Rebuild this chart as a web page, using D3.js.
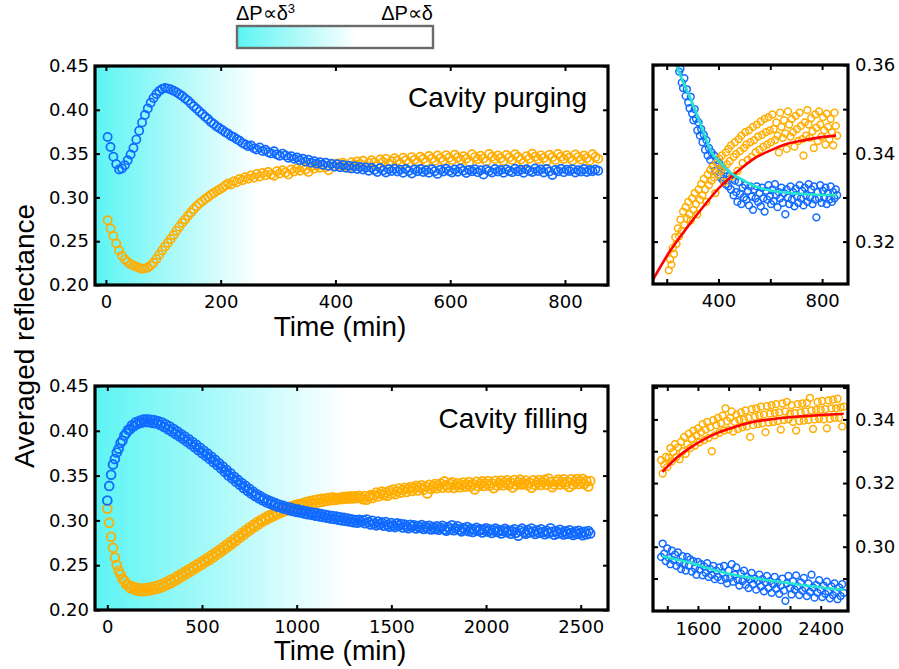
<!DOCTYPE html>
<html><head><meta charset="utf-8">
<script src="https://cdn.jsdelivr.net/npm/d3@7"></script>
<style>body{margin:0;background:#fff}svg{display:block}</style>
</head><body>
<svg id="chart" width="899" height="669"></svg>
<script>
// ---------- DATA ----------
// Cavity purging: sampled every 5 min starting at 3 min
const purgeTimeStart = 3, purgeTimeStep = 5;
const purgeBlue = [
0.3690,0.3575,0.3465,0.3380,0.3318,0.3330,0.3368,0.3425,0.3490,0.3565,
0.3660,0.3760,0.3855,0.3940,0.4015,0.4080,0.4135,0.4180,0.4215,0.4238,
0.4250,0.4242,0.4232,0.4218,0.4200,0.4178,0.4158,0.4130,0.4105,0.4072,
0.4040,0.4012,0.3980,0.3952,0.3922,0.3895,0.3862,0.3838,0.3810,0.3790,
0.3768,0.3745,0.3728,0.3702,0.3688,0.3665,0.3648,0.3620,0.3605,0.3585,
0.3592,0.3560,0.3548,0.3570,0.3530,0.3545,0.3515,0.3502,0.3528,0.3490,
0.3475,0.3500,0.3478,0.3452,0.3470,0.3440,0.3455,0.3425,0.3442,0.3408,
0.3430,0.3395,0.3412,0.3385,0.3402,0.3372,0.3395,0.3360,0.3385,0.3352,
0.3378,0.3345,0.3370,0.3338,0.3362,0.3330,0.3355,0.3325,0.3348,0.3318,
0.3342,0.3305,0.3338,0.3312,0.3290,0.3335,0.3308,0.3285,0.3322,0.3300,
0.3328,0.3295,0.3315,0.3282,0.3325,0.3302,0.3272,0.3318,0.3298,0.3325,
0.3290,0.3310,0.3280,0.3322,0.3298,0.3268,0.3315,0.3295,0.3328,0.3302,
0.3285,0.3318,0.3292,0.3330,0.3305,0.3278,0.3312,0.3298,0.3322,0.3288,
0.3310,0.3262,0.3318,0.3300,0.3285,0.3325,0.3295,0.3312,0.3280,0.3320,
0.3302,0.3288,0.3328,0.3298,0.3315,0.3282,0.3322,0.3305,0.3290,0.3330,
0.3300,0.3318,0.3285,0.3325,0.3295,0.3255,0.3312,0.3298,0.3328,0.3288,
0.3315,0.3300,0.3322,0.3285,0.3310,0.3295,0.3325,0.3290,0.3312,0.3298,
0.3318,0.3305];
const purgeOrange = [
0.2740,0.2645,0.2560,0.2475,0.2395,0.2335,0.2290,0.2262,0.2238,0.2222,
0.2210,0.2195,0.2185,0.2190,0.2200,0.2222,0.2255,0.2298,0.2345,0.2395,
0.2440,0.2482,0.2525,0.2570,0.2618,0.2665,0.2710,0.2748,0.2790,0.2828,
0.2865,0.2898,0.2930,0.2955,0.2982,0.3005,0.3030,0.3050,0.3072,0.3090,
0.3110,0.3135,0.3160,0.3148,0.3185,0.3172,0.3210,0.3195,0.3230,0.3212,
0.3250,0.3225,0.3268,0.3238,0.3278,0.3252,0.3290,0.3262,0.3248,0.3298,
0.3272,0.3310,0.3285,0.3262,0.3318,0.3295,0.3330,0.3305,0.3342,0.3318,
0.3290,0.3352,0.3328,0.3362,0.3338,0.3370,0.3345,0.3310,0.3378,0.3352,
0.3388,0.3360,0.3395,0.3368,0.3335,0.3402,0.3375,0.3410,0.3382,0.3418,
0.3348,0.3392,0.3425,0.3398,0.3360,0.3432,0.3405,0.3440,0.3378,0.3412,
0.3448,0.3420,0.3385,0.3452,0.3425,0.3392,0.3460,0.3430,0.3402,0.3465,
0.3438,0.3408,0.3472,0.3442,0.3415,0.3478,0.3448,0.3420,0.3482,0.3452,
0.3425,0.3488,0.3455,0.3430,0.3470,0.3440,0.3402,0.3492,0.3460,0.3435,
0.3475,0.3445,0.3410,0.3495,0.3465,0.3438,0.3478,0.3448,0.3415,0.3485,
0.3455,0.3428,0.3492,0.3462,0.3432,0.3395,0.3470,0.3440,0.3498,0.3465,
0.3435,0.3480,0.3450,0.3412,0.3488,0.3458,0.3428,0.3495,0.3465,0.3438,
0.3482,0.3452,0.3420,0.3490,0.3460,0.3432,0.3478,0.3448,0.3418,0.3492,
0.3462,0.3440];

// Cavity filling: sampled every 10 min starting at 0 min
const fillTimeStart = 0, fillTimeStep = 10;
const fillBlue = [
0.3222,0.3385,0.3510,0.3625,0.3685,0.3758,0.3800,0.3865,0.3892,0.3948,
0.3972,0.4012,0.4018,0.4062,0.4050,0.4095,0.4075,0.4112,0.4090,0.4125,
0.4098,0.4128,0.4095,0.4122,0.4088,0.4118,0.4082,0.4105,0.4065,0.4092,
0.4042,0.4070,0.4018,0.4048,0.3992,0.4020,0.3965,0.3992,0.3938,0.3962,
0.3910,0.3935,0.3880,0.3905,0.3850,0.3875,0.3818,0.3845,0.3785,0.3810,
0.3752,0.3778,0.3722,0.3745,0.3688,0.3710,0.3652,0.3675,0.3618,0.3638,
0.3582,0.3602,0.3542,0.3562,0.3502,0.3525,0.3468,0.3488,0.3432,0.3452,
0.3398,0.3418,0.3362,0.3385,0.3330,0.3352,0.3300,0.3320,0.3272,0.3292,
0.3248,0.3268,0.3225,0.3245,0.3202,0.3225,0.3185,0.3208,0.3168,0.3190,
0.3152,0.3175,0.3140,0.3162,0.3128,0.3150,0.3115,0.3140,0.3105,0.3128,
0.3095,0.3120,0.3088,0.3110,0.3078,0.3102,0.3070,0.3092,0.3062,0.3085,
0.3052,0.3078,0.3045,0.3070,0.3038,0.3062,0.3030,0.3055,0.3022,0.3048,
0.3015,0.3042,0.3008,0.3035,0.3000,0.3028,0.2995,0.3020,0.2988,0.3012,
0.2980,0.3005,0.2975,0.3008,0.2982,0.3002,0.2968,0.3010,0.2978,0.2955,
0.2995,0.2965,0.2945,0.2988,0.2958,0.2975,0.2940,0.2982,0.2952,0.2930,
0.2970,0.2945,0.2925,0.2968,0.2940,0.2960,0.2922,0.2955,0.2932,0.2912,
0.2952,0.2928,0.2945,0.2910,0.2938,0.2918,0.2948,0.2905,0.2930,0.2912,
0.2940,0.2898,0.2925,0.2905,0.2935,0.2895,0.2918,0.2940,0.2900,0.2885,
0.2925,0.2902,0.2945,0.2890,0.2912,0.2935,0.2895,0.2878,0.2915,0.2892,
0.2925,0.2880,0.2905,0.2870,0.2898,0.2918,0.2882,0.2900,0.2865,0.2892,
0.2912,0.2875,0.2898,0.2860,0.2888,0.2908,0.2870,0.2892,0.2855,0.2882,
0.2905,0.2868,0.2888,0.2852,0.2878,0.2900,0.2862,0.2830,0.2885,0.2908,
0.2870,0.2850,0.2892,0.2865,0.2910,0.2875,0.2848,0.2888,0.2862,0.2902,
0.2870,0.2845,0.2885,0.2858,0.2912,0.2872,0.2840,0.2880,0.2855,0.2895,
0.2865,0.2842,0.2878,0.2852,0.2890,0.2860,0.2838,0.2875,0.2848,0.2885,
0.2858,0.2835,0.2872,0.2845,0.2882,0.2855];
const fillOrange = [
0.3130,0.2975,0.2818,0.2695,0.2585,0.2502,0.2438,0.2395,0.2345,0.2330,
0.2285,0.2282,0.2245,0.2265,0.2228,0.2250,0.2215,0.2242,0.2210,0.2240,
0.2212,0.2245,0.2218,0.2252,0.2225,0.2262,0.2235,0.2275,0.2248,0.2292,
0.2265,0.2310,0.2285,0.2335,0.2305,0.2352,0.2330,0.2378,0.2355,0.2405,
0.2380,0.2428,0.2405,0.2455,0.2430,0.2478,0.2458,0.2505,0.2482,0.2530,
0.2508,0.2555,0.2535,0.2582,0.2562,0.2610,0.2590,0.2640,0.2618,0.2668,
0.2648,0.2700,0.2678,0.2730,0.2708,0.2760,0.2740,0.2792,0.2772,0.2825,
0.2805,0.2858,0.2838,0.2890,0.2870,0.2920,0.2900,0.2950,0.2930,0.2978,
0.2958,0.3005,0.2985,0.3028,0.3008,0.3052,0.3030,0.3072,0.3050,0.3092,
0.3068,0.3110,0.3088,0.3128,0.3105,0.3142,0.3120,0.3158,0.3135,0.3170,
0.3148,0.3182,0.3160,0.3192,0.3168,0.3205,0.3178,0.3215,0.3188,0.3225,
0.3195,0.3232,0.3202,0.3240,0.3210,0.3245,0.3218,0.3252,0.3225,0.3258,
0.3228,0.3250,0.3235,0.3255,0.3238,0.3262,0.3242,0.3265,0.3245,0.3268,
0.3245,0.3270,0.3250,0.3275,0.3252,0.3235,0.3272,0.3230,0.3258,0.3282,
0.3250,0.3280,0.3310,0.3268,0.3298,0.3322,0.3282,0.3312,0.3275,0.3330,
0.3300,0.3345,0.3292,0.3322,0.3355,0.3310,0.3340,0.3365,0.3318,0.3350,
0.3372,0.3328,0.3360,0.3385,0.3335,0.3368,0.3392,0.3342,0.3375,0.3300,
0.3398,0.3350,0.3382,0.3405,0.3358,0.3388,0.3412,0.3365,0.3435,0.3395,
0.3368,0.3405,0.3425,0.3362,0.3392,0.3415,0.3370,0.3398,0.3422,0.3375,
0.3400,0.3428,0.3378,0.3405,0.3345,0.3432,0.3382,0.3408,0.3435,0.3385,
0.3412,0.3440,0.3388,0.3415,0.3360,0.3442,0.3390,0.3418,0.3445,0.3392,
0.3420,0.3448,0.3395,0.3422,0.3368,0.3450,0.3398,0.3425,0.3455,0.3400,
0.3418,0.3445,0.3392,0.3420,0.3365,0.3448,0.3395,0.3422,0.3450,0.3396,
0.3425,0.3452,0.3398,0.3468,0.3428,0.3370,0.3400,0.3430,0.3455,0.3402,
0.3430,0.3458,0.3400,0.3432,0.3372,0.3460,0.3402,0.3435,0.3462,0.3405,
0.3435,0.3465,0.3405,0.3438,0.3378,0.3440];

// Fit curves
const purgeRedFitT  = [147,212,276,341,406,470,534,599,663,727,792,854];
const purgeRedFitV  = [0.3114,0.3178,0.3230,0.3279,0.3324,0.3357,0.3387,0.3406,0.3421,0.3429,0.3436,0.3440];
const purgeCyanFitT = [236,244,276,314,340,373,406,444,496,534,599,663,727,856];
const purgeCyanFitV = [0.3605,0.3590,0.3545,0.3492,0.3451,0.3402,0.3380,0.3357,0.3339,0.3327,0.3316,0.3311,0.3308,0.3305];
const fillRedFitT   = [1368,1450,1546,1633,1750,1850,1950,2067,2180,2284,2400,2523,2550];
const fillRedFitV   = [0.3235,0.3275,0.3310,0.3336,0.3362,0.3378,0.3391,0.3400,0.3406,0.3410,0.3414,0.3417,0.3418];
const fillCyanFitT  = [1368,1450,1546,1650,1741,1850,1950,2067,2200,2300,2420,2522,2550];
const fillCyanFitV  = [0.2970,0.2961,0.2950,0.2935,0.2922,0.2910,0.2902,0.2894,0.2885,0.2878,0.2871,0.2866,0.2865];

// Ticks
const mainYTicks = [0.20,0.25,0.30,0.35,0.40,0.45];
const purgeXTicks = [0,200,400,600,800];
const fillXTicks = [0,500,1000,1500,2000,2500];
const purgeInsetXTicks = [200,400,600,800];
const purgeInsetXLabels = [400,800];
const purgeInsetYTicks = [0.32,0.33,0.34,0.35,0.36];
const purgeInsetYLabels = [0.32,0.34,0.36];
const fillInsetXTicks = [1400,1600,1800,2000,2200,2400];
const fillInsetXLabels = [1600,2000,2400];
const fillInsetYTicks = [0.29,0.30,0.31,0.32,0.33,0.34,0.35];
const fillInsetYLabels = [0.30,0.32,0.34];

// Texts
const purgeTitle = "Cavity purging", fillTitle = "Cavity filling";
const xTitle = "Time (min)", yTitle = "Averaged reflectance";
const legendLeft = "ΔP∝δ", legendLeftSup = "3", legendRight = "ΔP∝δ";
const purgeGradientEnd = 265, fillGradientEnd = 1255;
const purgeInsetStart = 205, fillInsetStart = 1360;

// ---------- DRAW ----------
const BLUE = "#106aff", ORANGE = "#ffad00", RED = "#ff0000", CYAN = "#25e3cc", GRAD = "#5cf4f4";
const TICKFONT = "'DejaVu Sans', sans-serif", BIGFONT = "'Liberation Sans', Arial, sans-serif";
const svg = d3.select("#chart");
const defs = svg.append("defs");

function series(start, step, vals) { return vals.map((v, i) => ({ t: start + i * step, v })); }
const purgeB = series(purgeTimeStart, purgeTimeStep, purgeBlue);
const purgeO = series(purgeTimeStart, purgeTimeStep, purgeOrange);
const fillB = series(fillTimeStart, fillTimeStep, fillBlue);
const fillO = series(fillTimeStart, fillTimeStep, fillOrange);
const zipFit = (T, V) => T.map((t, i) => ({ t, v: V[i] }));

let clipId = 0;
function panel(o) {
  const x = d3.scaleLinear().domain(o.xd).range([o.x0, o.x1]);
  const y = d3.scaleLinear().domain(o.yd).range([o.y1, o.y0]);
  const g = svg.append("g");
  const id = "clip" + (clipId++);
  defs.append("clipPath").attr("id", id).append("rect")
    .attr("x", o.x0).attr("y", o.y0).attr("width", o.x1 - o.x0).attr("height", o.y1 - o.y0);
  if (o.gradEnd !== undefined) {
    const gid = "grad" + id;
    const lg = defs.append("linearGradient").attr("id", gid).attr("gradientUnits", "userSpaceOnUse")
      .attr("x1", o.x0).attr("x2", x(o.gradEnd)).attr("y1", 0).attr("y2", 0);
    lg.append("stop").attr("offset", 0).attr("stop-color", GRAD);
    lg.append("stop").attr("offset", 1).attr("stop-color", "#ffffff");
    g.append("rect").attr("x", o.x0).attr("y", o.y0).attr("width", o.x1 - o.x0).attr("height", o.y1 - o.y0)
      .attr("fill", `url(#${gid})`);
  }
  const plot = g.append("g").attr("clip-path", `url(#${id})`);
  o.sets.forEach(s => {
    plot.append("g").selectAll("circle").data(s.data).join("circle")
      .attr("cx", d => x(d.t)).attr("cy", d => y(d.v)).attr("r", o.r)
      .attr("fill", "none").attr("stroke", s.color).attr("stroke-width", o.sw);
  });
  (o.fits || []).forEach(f => {
    plot.append("path").datum(f.data)
      .attr("d", d3.line().x(d => x(d.t)).y(d => y(d.v)).curve(d3.curveMonotoneX))
      .attr("fill", "none").attr("stroke", f.color).attr("stroke-width", 2.6);
  });
  const fmtX = v => (o.xLabels ? (o.xLabels.includes(v) ? d3.format("d")(v) : "") : d3.format("d")(v));
  const fmtY = v => (o.yLabels ? (o.yLabels.some(l => Math.abs(l - v) < 1e-9) ? d3.format(".2f")(v) : "") : d3.format(".2f")(v));
  const styleAxis = sel => {
    sel.select(".domain").remove();
    sel.selectAll(".tick line").attr("stroke", "#000").attr("stroke-width", 2);
    sel.selectAll(".tick text").attr("font-family", TICKFONT).attr("font-size", 18).attr("fill", "#000");
  };
  const TL = 5;
  g.append("g").attr("transform", `translate(0,${o.y1})`)
    .call(d3.axisBottom(x).tickValues(o.xTicks).tickSize(-TL).tickPadding(o.xPad).tickFormat(fmtX)).call(styleAxis);
  g.append("g").attr("transform", `translate(0,${o.y0})`)
    .call(d3.axisTop(x).tickValues(o.xTicks).tickSize(-TL).tickFormat("")).call(styleAxis);
  if (o.yRight) {
    g.append("g").attr("transform", `translate(${o.x1},0)`)
      .call(d3.axisRight(y).tickValues(o.yTicks).tickSize(-TL).tickPadding(7).tickFormat(fmtY)).call(styleAxis);
    g.append("g").attr("transform", `translate(${o.x0},0)`)
      .call(d3.axisLeft(y).tickValues(o.yTicks).tickSize(-TL).tickFormat("")).call(styleAxis);
  } else {
    g.append("g").attr("transform", `translate(${o.x0},0)`)
      .call(d3.axisLeft(y).tickValues(o.yTicks).tickSize(-TL).tickPadding(6).tickFormat(fmtY)).call(styleAxis);
    g.append("g").attr("transform", `translate(${o.x1},0)`)
      .call(d3.axisRight(y).tickValues(o.yTicks).tickSize(-TL).tickFormat("")).call(styleAxis);
  }
  g.append("rect").attr("x", o.x0).attr("y", o.y0).attr("width", o.x1 - o.x0).attr("height", o.y1 - o.y0)
    .attr("fill", "none").attr("stroke", "#000").attr("stroke-width", 3.2);
  if (o.title) {
    g.append("text").attr("x", o.title.x).attr("y", o.title.y).attr("text-anchor", "end")
      .attr("font-family", BIGFONT).attr("font-size", 28).text(o.title.text);
  }
  return { x, y };
}

// Top main
panel({ x0: 95, x1: 608, y0: 66, y1: 285, xd: [-19, 875], yd: [0.20, 0.45], r: 4.1, sw: 1.7, xPad: 10,
  gradEnd: purgeGradientEnd, xTicks: purgeXTicks, yTicks: mainYTicks,
  sets: [{ data: purgeO, color: ORANGE }, { data: purgeB, color: BLUE }],
  title: { text: purgeTitle, x: 587, y: 107 } });
// Bottom main
panel({ x0: 95, x1: 608, y0: 386, y1: 610, xd: [-65, 2644], yd: [0.20, 0.45], r: 4.4, sw: 1.8, xPad: 10,
  gradEnd: fillGradientEnd, xTicks: fillXTicks, yTicks: mainYTicks,
  sets: [{ data: fillO, color: ORANGE }, { data: fillB, color: BLUE }],
  title: { text: fillTitle, x: 588, y: 428 } });
// Top inset
panel({ x0: 653, x1: 848, y0: 65, y1: 284, xd: [147, 900], yd: [0.3104, 0.36], r: 3.4, sw: 1.5, xPad: 10,
  xTicks: purgeInsetXTicks, xLabels: purgeInsetXLabels, yTicks: purgeInsetYTicks, yLabels: purgeInsetYLabels, yRight: true,
  sets: [{ data: purgeB.filter(d => d.t >= purgeInsetStart), color: BLUE }, { data: purgeO.filter(d => d.t >= purgeInsetStart), color: ORANGE }],
  fits: [{ data: zipFit(purgeRedFitT, purgeRedFitV), color: RED }, { data: zipFit(purgeCyanFitT, purgeCyanFitV), color: CYAN }] });
// Bottom inset
panel({ x0: 653, x1: 848, y0: 386, y1: 611, xd: [1307, 2578], yd: [0.2798, 0.3505], r: 3.4, sw: 1.5, xPad: 11,
  xTicks: fillInsetXTicks, xLabels: fillInsetXLabels, yTicks: fillInsetYTicks, yLabels: fillInsetYLabels, yRight: true,
  sets: [{ data: fillO.filter(d => d.t >= fillInsetStart), color: ORANGE }, { data: fillB.filter(d => d.t >= fillInsetStart), color: BLUE }],
  fits: [{ data: zipFit(fillRedFitT, fillRedFitV), color: RED }, { data: zipFit(fillCyanFitT, fillCyanFitV), color: CYAN }] });

// Axis titles
svg.append("text").attr("x", 340).attr("y", 336).attr("text-anchor", "middle")
  .attr("font-family", BIGFONT).attr("font-size", 28).text(xTitle);
svg.append("text").attr("x", 340).attr("y", 660).attr("text-anchor", "middle")
  .attr("font-family", BIGFONT).attr("font-size", 28).text(xTitle);
svg.append("text").attr("transform", "translate(34,336) rotate(-90)").attr("text-anchor", "middle")
  .attr("font-family", BIGFONT).attr("font-size", 28).text(yTitle);

// Legend bar
const lg = defs.append("linearGradient").attr("id", "legendGrad").attr("x1", "0%").attr("x2", "100%");
lg.append("stop").attr("offset", "0%").attr("stop-color", GRAD);
lg.append("stop").attr("offset", "61%").attr("stop-color", "#ffffff");
lg.append("stop").attr("offset", "100%").attr("stop-color", "#ffffff");
svg.append("rect").attr("x", 237).attr("y", 26).attr("width", 196).attr("height", 22)
  .attr("fill", "url(#legendGrad)").attr("stroke", "#6b6b6b").attr("stroke-width", 2.4);
const lt = svg.append("text").attr("x", 236).attr("y", 20).attr("font-family", BIGFONT).attr("font-size", 20);
lt.append("tspan").text(legendLeft);
lt.append("tspan").attr("font-size", 13).attr("dy", -7).text(legendLeftSup);
svg.append("text").attr("x", 433).attr("y", 20).attr("text-anchor", "end")
  .attr("font-family", BIGFONT).attr("font-size", 20).text(legendRight);
</script>
</body></html>
